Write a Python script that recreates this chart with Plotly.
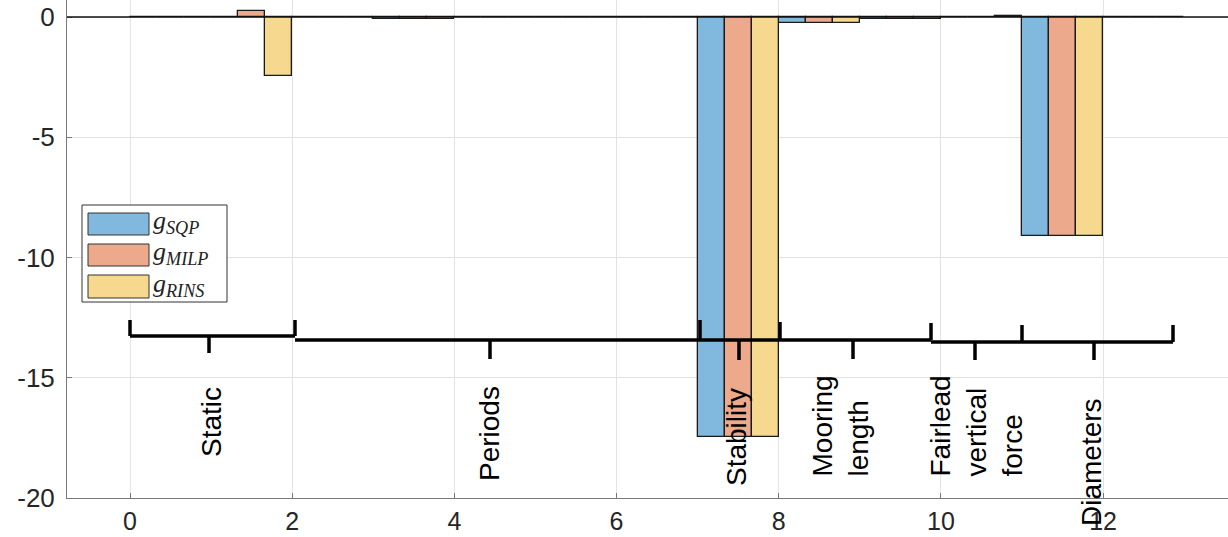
import plotly.graph_objects as go

# ---------------- data ----------------
GROUP_X = [0.5, 1.5, 2.5, 3.5, 4.5, 5.5, 6.5, 7.5, 8.5, 9.5, 10.5, 11.5, 12.5]
G_SQP = [0, 0, 0, -0.07, 0, 0, 0, -17.45, -0.25, -0.07, 0, -9.12, 0]
G_MILP = [0, 0.25, 0, -0.07, 0, 0, 0, -17.45, -0.25, -0.07, 0, -9.12, 0]
G_RINS = [0, -2.45, 0, -0.07, 0, 0, 0, -17.45, -0.25, -0.07, 0.04, -9.12, 0]
SERIES_NAMES = ["SQP", "MILP", "RINS"]
X_TICKS = [0, 2, 4, 6, 8, 10, 12]
Y_TICKS = [-20, -15, -10, -5, 0]
Y_TICK_TEXT = ["-20", "-15", "-10", "-5", "0"]
BRACKET_LABELS = ["Static", "Periods", "Stability", "Mooring<br>length",
                  "Fairlead<br>vertical<br>force", "Diameters"]

# ---------------- style ----------------
COLORS = ["#80B8DE", "#ECA98C", "#F6D88F"]
W, H = 1228, 537
ML, MR, MT, MB = 67, 0, 0, 39
XR = [-0.777, 13.54]
YR = [-20, 0.707]
FONT = "Liberation Sans, Arial, sans-serif"


def xd(px):  # pixel -> data x
    return XR[0] + (px - ML) / (W - ML - MR) * (XR[1] - XR[0])


def yd(py):  # pixel -> data y
    return YR[1] - (py - MT) / (H - MT - MB) * (YR[1] - YR[0])


fig = go.Figure()
for name, vals, col in zip(SERIES_NAMES, [G_SQP, G_MILP, G_RINS], COLORS):
    fig.add_trace(go.Bar(
        x=GROUP_X, y=vals, name=name, marker=dict(color=col, line=dict(color="#1a1a1a", width=1.3)),
        showlegend=False))

shapes = []
# baseline
shapes.append(dict(type="line", xref="paper", yref="y", x0=0, x1=1, y0=0, y1=0,
                   line=dict(color="#111111", width=1.5)))

# brackets (decoration, pixel geometry)
BK = dict(color="black", width=3.5)
bracket_geo = [
    # (x_left, x_right, level, x_center, center_bottom, left_top, right_top)
    (130, 295, 336, 209, 353, 320, 320),
    (295, 700, 340, 490, 359, None, None),
    (700, 780, 340, 739, 360, 320, 322),
    (780, 931, 340, 853, 359, None, 323),
    (931, 1022, 342, 975, 360, None, 325),
    (1022, 1173, 342, 1094, 360, None, 325),
]
for xl, xr, lv, xc, cb, lt, rt in bracket_geo:
    shapes.append(dict(type="line", x0=xd(xl), x1=xd(xr), y0=yd(lv), y1=yd(lv), line=BK))
    shapes.append(dict(type="line", x0=xd(xc), x1=xd(xc), y0=yd(lv), y1=yd(cb), line=BK))
    if lt is not None:
        shapes.append(dict(type="line", x0=xd(xl), x1=xd(xl), y0=yd(lv), y1=yd(lt), line=BK))
    if rt is not None:
        shapes.append(dict(type="line", x0=xd(xr), x1=xd(xr), y0=yd(lv), y1=yd(rt), line=BK))

# legend box + swatches
shapes.append(dict(type="rect", x0=xd(82), x1=xd(227), y0=yd(205), y1=yd(302),
                   fillcolor="white", line=dict(color="#333333", width=1)))
sw_y = [(213, 235), (244, 266), (275, 298)]
for (t, b), col in zip(sw_y, COLORS):
    shapes.append(dict(type="rect", x0=xd(88), x1=xd(149), y0=yd(b), y1=yd(t),
                       fillcolor=col, line=dict(color="#333333", width=1)))

annotations = []
for (t, b), nm in zip(sw_y, SERIES_NAMES):
    annotations.append(dict(
        x=xd(151), y=yd((t + b) / 2 - 2), xanchor="left", yanchor="middle", showarrow=False,
        text="<i>g</i><sub><i>%s</i></sub>" % nm,
        font=dict(family="Liberation Serif, Times New Roman, serif", size=26, color="#222222")))

# rotated group labels: (x_center_px, y_px, yanchor)
label_pos = [
    (211, 422, "middle"),
    (489, 434, "middle"),
    (736, 437, "middle"),
    (840, 479, "bottom"),
    (976, 479, "bottom"),
    (1091, 462, "middle"),
]
for txt, (xp, yp, ya) in zip(BRACKET_LABELS, label_pos):
    annotations.append(dict(
        x=xd(xp), y=yd(yp), xanchor="center", yanchor=ya, showarrow=False, textangle=-90,
        align="left", text=txt, font=dict(family=FONT, size=28, color="black")))

fig.update_layout(
    width=W, height=H, margin=dict(l=ML, r=MR, t=MT, b=MB, pad=0, autoexpand=False),
    paper_bgcolor="white", plot_bgcolor="white",
    barmode="group", bargap=0, bargroupgap=0,
    shapes=shapes, annotations=annotations,
    xaxis=dict(range=XR, tickvals=X_TICKS, showgrid=True, gridcolor="#e3e3e3", gridwidth=1,
               zeroline=False, showline=True, linecolor="#7a7a7a", linewidth=1, automargin=False,
               ticks="inside", ticklen=5, tickcolor="#7a7a7a", ticklabelstandoff=1,
               tickfont=dict(family=FONT, size=25, color="#262626")),
    yaxis=dict(range=YR, tickvals=Y_TICKS, ticktext=Y_TICK_TEXT, showgrid=True,
               gridcolor="#e3e3e3", gridwidth=1, zeroline=False, showline=True, automargin=False,
               linecolor="#7a7a7a", linewidth=1, ticks="inside", ticklen=5,
               tickcolor="#7a7a7a", ticklabelstandoff=6,
               tickfont=dict(family=FONT, size=26, color="#262626")),
)

fig.write_html("out.html")
